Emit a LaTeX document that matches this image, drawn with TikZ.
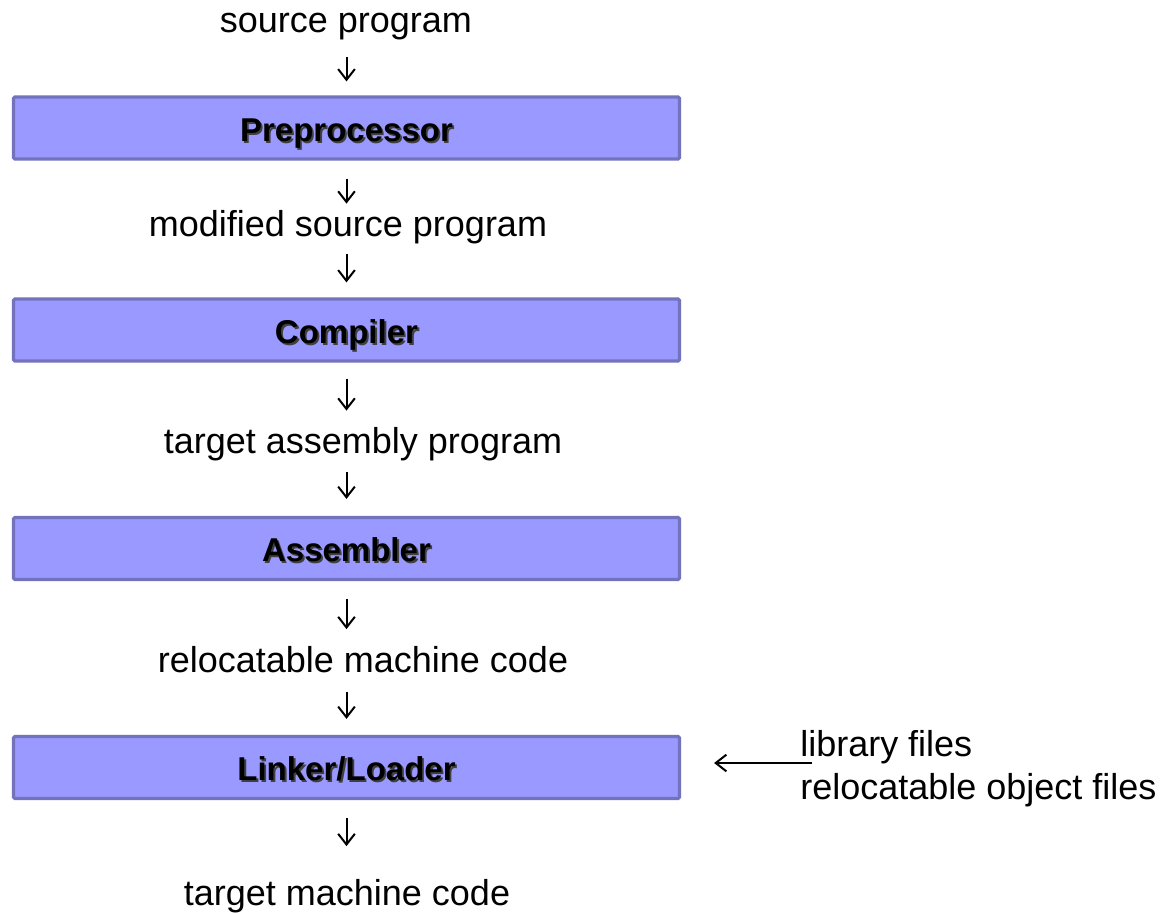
\documentclass[tikz,border=0pt]{standalone}
\usepackage{fontspec}
\setmainfont{Liberation Sans}
\usetikzlibrary{arrows.meta,calc}
\definecolor{boxfill}{HTML}{9999FF}
\definecolor{boxline}{HTML}{7373BD}
\newcommand\shtext[1]{\rlap{\kern1.4pt\raisebox{-1.4pt}{\textcolor{black!75}{#1}}}#1}
\tikzset{
  stage/.style={draw=boxline, fill=boxfill, line width=2.4pt, rounded corners=1pt,
    minimum width=499.5pt, minimum height=46.5pt, inner sep=0pt,
    font=\fontsize{24.75pt}{28pt}\selectfont\bfseries, text height=20pt, text depth=0pt},
  lbl/.style={inner sep=0pt, anchor=base, font=\fontsize{27pt}{32pt}\selectfont},
  flow/.style={line width=1.5pt, -{Straight Barb[length=8pt,width=12.5pt,line width=1.5pt]}}
}
\begin{document}
\begin{tikzpicture}[x=0.75pt,y=-0.75pt]
\useasboundingbox (0,0) rectangle (1167,913);
\node[lbl] (src) at (346,33) {source program};
\node[stage] (pre) at (346.5,128) {\shtext{Preprocessor}};
\node[lbl] (mod) at (348,236) {modified source program};
\node[stage] (comp) at (346.5,330) {\shtext{Compiler}};
\node[lbl] (tgt) at (363,453) {target assembly program};
\node[stage] (asm) at (346.5,548.5) {\shtext{Assembler}};
\node[lbl] (reloc) at (363,672) {relocatable machine code};
\node[stage] (link) at (346.5,767.5) {\shtext{Linker/Loader}};
\node[lbl] (out) at (347,905) {target machine code};
\node[inner sep=0pt, anchor=north west, align=left, font=\fontsize{27pt}{32.25pt}\selectfont] (files) at (800,730) {library files\\relocatable object files};
\draw[flow] ($(pre.north)+(0,-38)$) -- ($(pre.north)+(0,-14)$);
\draw[flow] ($(pre.south)+(0,18)$) -- ($(pre.south)+(0,43)$);
\draw[flow] ($(comp.north)+(0,-43)$) -- ($(comp.north)+(0,-15)$);
\draw[flow] ($(comp.south)+(0,16)$) -- ($(comp.south)+(0,48)$);
\draw[flow] ($(asm.north)+(0,-44)$) -- ($(asm.north)+(0,-17)$);
\draw[flow] ($(asm.south)+(0,18)$) -- ($(asm.south)+(0,48)$);
\draw[flow] ($(link.north)+(0,-43)$) -- ($(link.north)+(0,-16)$);
\draw[flow] ($(link.south)+(0,18)$) -- ($(link.south)+(0,46)$);
\draw[flow] ($(files.west |- 0,763)+(12,0)$) -- ($(link.east |- 0,763)+(33,0)$);
\end{tikzpicture}
\end{document}
